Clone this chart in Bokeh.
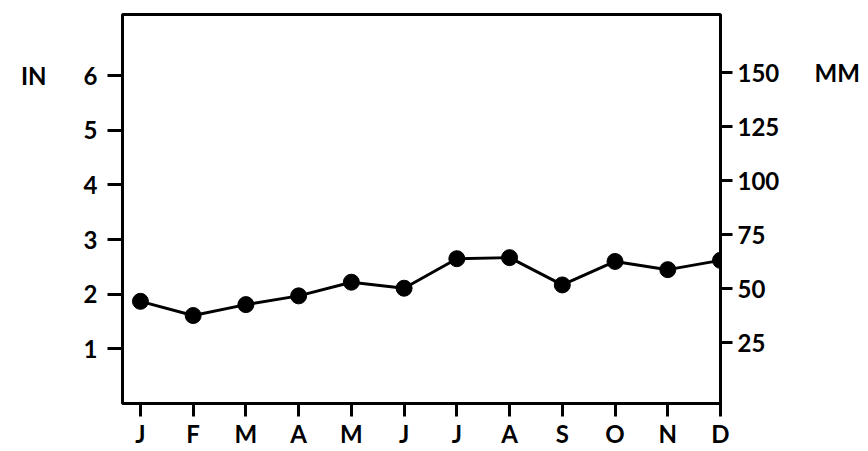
from bokeh.plotting import figure
from bokeh.models import Range1d, LinearAxis, FixedTicker
from bokeh.embed import file_html
from bokeh.resources import INLINE

months = ["J", "F", "M", "A", "M", "J", "J", "A", "S", "O", "N", "D"]
rain_in = [1.87, 1.61, 1.81, 1.97, 2.22, 2.11, 2.65, 2.67, 2.17, 2.60, 2.45, 2.62]
in_ticks = [1, 2, 3, 4, 5, 6]
mm_ticks = [25, 50, 75, 100, 125, 150]
unit_in = "IN"
unit_mm = "MM"

FONT = "Lato"
FS = "24px"

x_idx = list(range(len(months)))

p = figure(width=868, height=451, output_backend="svg", toolbar_location=None,
           x_range=Range1d(-0.34, 11.0), y_range=Range1d(0, 7.12),
           min_border_left=122, min_border_right=148, min_border_top=14,
           min_border_bottom=48, background_fill_color="white",
           border_fill_color="white")
p.extra_y_ranges = {"mm": Range1d(-3.2, 176.9)}

p.xgrid.visible = False
p.ygrid.visible = False
p.outline_line_color = "black"
p.outline_line_width = 3
p.outline_line_alpha = 1.0


def style(ax, tick_out, standoff):
    ax.axis_line_color = None
    ax.major_tick_out = tick_out
    ax.major_tick_in = 0
    ax.minor_tick_line_color = None
    ax.major_tick_line_width = 3
    ax.major_label_standoff = standoff
    ax.major_label_text_font = FONT
    ax.major_label_text_font_size = FS
    ax.major_label_text_font_style = "bold"
    ax.major_label_text_color = "black"


# left axis (inches)
p.yaxis.ticker = FixedTicker(ticks=in_ticks)
style(p.yaxis[0], 15, 10)

# bottom axis (months)
p.xaxis.ticker = FixedTicker(ticks=x_idx)
p.xaxis.major_label_overrides = {i: m for i, m in enumerate(months)}
style(p.xaxis[0], 13, 2)

# right axis (millimetres)
ax_r = LinearAxis(y_range_name="mm", ticker=FixedTicker(ticks=mm_ticks))
style(ax_r, 12, 5)
p.add_layout(ax_r, "right")

# unit captions, set beside the top ticks
ax_in = LinearAxis(ticker=FixedTicker(ticks=[in_ticks[-1]]),
                   major_label_overrides={in_ticks[-1]: unit_in})
style(ax_in, 0, 34)
ax_in.major_tick_line_color = None
p.add_layout(ax_in, "left")

ax_mm = LinearAxis(y_range_name="mm", ticker=FixedTicker(ticks=[mm_ticks[-1]]),
                   major_label_overrides={mm_ticks[-1]: unit_mm})
style(ax_mm, 0, 32)
ax_mm.major_tick_line_color = None
p.add_layout(ax_mm, "right")

p.line(x_idx, rain_in, line_color="black", line_width=3)
p.scatter(x_idx, rain_in, marker="circle", size=16, fill_color="black",
          line_color="black")

open("out.html", "w").write(file_html(p, INLINE))
